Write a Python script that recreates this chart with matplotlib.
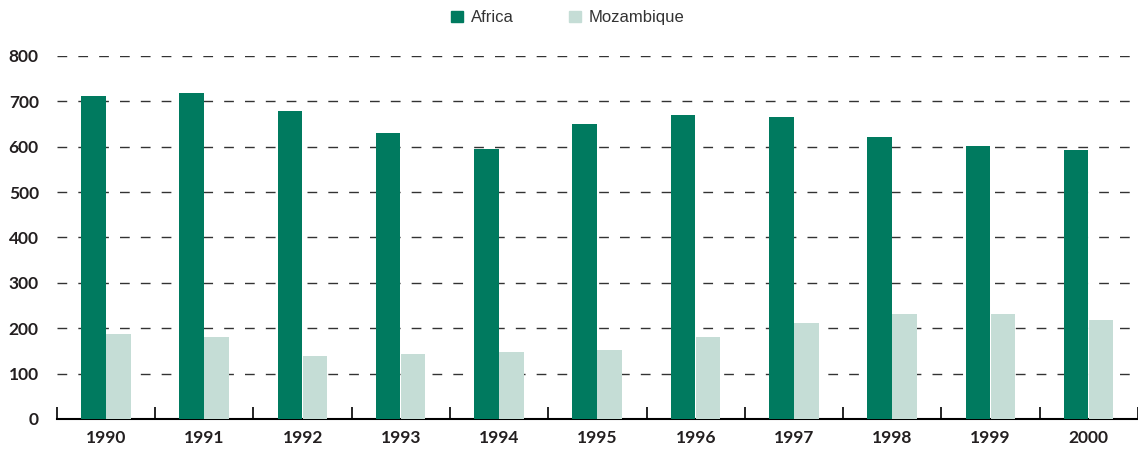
import matplotlib
matplotlib.use("Agg")
import matplotlib.pyplot as plt
import numpy as np
from matplotlib.patches import Patch

years = ["1990", "1991", "1992", "1993", "1994", "1995", "1996", "1997", "1998", "1999", "2000"]
africa = [711, 718, 678, 630, 595, 650, 670, 665, 621, 601, 593]
mozambique = [187, 181, 139, 143, 148, 152, 181, 211, 231, 231, 218]
yticks = [0, 100, 200, 300, 400, 500, 600, 700, 800]

c_africa = "#007a5f"
c_moz = "#c5ddd6"
txt = "#231f20"

plt.rcParams['font.family'] = ['Lato', 'DejaVu Sans']

fig = plt.figure(figsize=(11.38, 4.51), dpi=100)
ax = fig.add_axes([0.050, 0.071, 0.950, 0.805])

x = np.arange(len(years))
w = 0.25
ax.bar(x - w / 2 - 0.005, africa, width=w, color=c_africa, zorder=3)
ax.bar(x + w / 2, mozambique, width=w, color=c_moz, zorder=3)

ax.set_xlim(-0.5, len(years) - 0.5)
ax.set_ylim(0, 800)

for v in yticks[1:]:
    ax.axhline(v, color="#333333", lw=1.0, ls=(0, (7, 8)), zorder=1)

ax.set_yticks(yticks)
ax.set_yticklabels([str(v) for v in yticks], fontsize=12.5, fontweight="bold", color=txt)
ax.tick_params(axis="y", length=0, pad=13)

ax.set_xticks(x)
ax.set_xticklabels(years, fontsize=12.5, fontweight="bold", color=txt)
ax.tick_params(axis="x", length=0, pad=8)
ax.set_xticks(np.arange(-0.5, len(years), 1.0), minor=True)
ax.tick_params(axis="x", which="minor", direction="in", length=9, width=1.2, color="#000000")

for s in ["top", "right", "left"]:
    ax.spines[s].set_visible(False)
ax.spines["bottom"].set_linewidth(1.5)
ax.spines["bottom"].set_color("#000000")

handles = [Patch(color=c_africa, label="Africa"), Patch(color=c_moz, label="Mozambique")]
fig.legend(handles=handles, loc="upper center", bbox_to_anchor=(0.499, 1.01), ncol=2,
           frameon=False, prop={"family": "Liberation Sans", "size": 12},
           handlelength=0.7, handleheight=0.7,
           handletextpad=0.5, columnspacing=3.3, labelcolor="#333333")

fig.savefig("out.png", dpi=100)
